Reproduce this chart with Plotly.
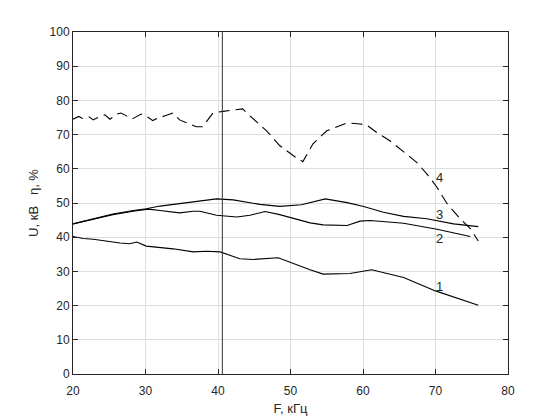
import plotly.graph_objects as go

# curve 1
f1 = [20, 21.4, 22.8, 24.6, 26.5, 27.8, 28.8, 30.1, 32, 33.8, 36.6, 38.4, 40.3, 43, 44.9,
      48.3, 52.7, 54.5, 58.2, 61.2, 65.6, 70.0, 75.9]
u1 = [40.2, 39.6, 39.4, 38.8, 38.3, 38.1, 38.6, 37.4, 37.1, 36.6, 35.7, 35.9, 35.7, 33.7, 33.5,
      34.0, 30.5, 29.2, 29.4, 30.5, 28.2, 24.3, 20.1]

# curve 2
f2 = [20, 22.8, 25.5, 28.3, 30.4, 32, 34.7, 36.6, 37.5, 39.8, 42.6, 44.4, 46.5, 48.5, 50.9,
      52.7, 54.5, 57.8, 59.6, 61, 65.6, 70.2, 74.8]
u2 = [43.9, 45.3, 46.6, 47.6, 48.2, 47.8, 47.1, 47.6, 47.6, 46.4, 45.9, 46.4, 47.5, 46.6, 45.1,
      44.2, 43.6, 43.4, 44.7, 44.9, 44.1, 42.3, 40.2]

# curve 3
f3 = [20, 22.8, 25.5, 28.3, 30.1, 32, 34.7, 37.5, 39.8, 42.1, 45.8, 48.5, 51.5, 54.8, 57.8,
      60.1, 62.8, 65.6, 68.8, 72.5, 75.9]
u3 = [43.9, 45.4, 46.8, 47.8, 48.3, 49.1, 49.8, 50.4, 51.2, 50.9, 49.6, 49.0, 49.5, 51.2, 50.1,
      49.0, 47.3, 46.1, 45.4, 43.9, 43.1]

# curve 4 (efficiency, dashed)
f4 = [20, 20.8, 21.3, 22.2, 22.8, 23.2, 24.4, 25.1, 26.1, 26.6, 27.2, 28.1, 29.4, 30.4, 31.0,
      31.7, 32.7, 33.8, 34.7, 36.1, 37.0, 37.9, 39.3, 40.7, 42.1, 43.4, 44.4, 46.7, 48.5, 50.4,
      51.7, 53.1, 55.0, 57.8, 59.6, 60.5, 61.9, 63.7, 66.0, 67.4, 68.8, 70.2, 71.6, 73.4, 74.8, 75.9]
u4 = [74.5, 75.3, 74.7, 75.2, 74.3, 74.8, 75.8, 74.5, 76.0, 76.3, 75.7, 74.5, 76.0, 75.0, 74.1,
      74.8, 75.5, 76.3, 74.3, 73.1, 72.3, 72.3, 76.3, 76.8, 77.2, 77.5, 75.5, 71.1, 66.8, 63.8,
      62.1, 67.3, 71.1, 73.4, 73.1, 72.8, 70.6, 68.2, 64.3, 61.9, 58.5, 54.6, 49.8, 45.4, 42.5, 38.9]

# curve labels
label_text = ['1', '2', '3', '4']
label_x = [70.5, 70.5, 70.5, 70.5]
label_y = [25.5, 39.6, 46.6, 57.5]

# vertical marker
marker_f = 40.6

fig = go.Figure()
for fx, uy in [(f1, u1), (f2, u2), (f3, u3)]:
    fig.add_trace(go.Scatter(x=fx, y=uy, mode='lines', line=dict(color='black', width=1.1)))
fig.add_trace(go.Scatter(x=f4, y=u4, mode='lines',
                         line=dict(color='black', width=1.1, dash='11px,6px')))

fig.add_vline(x=marker_f, line=dict(color='#333333', width=1))

for t, lx, ly in zip(label_text, label_x, label_y):
    fig.add_annotation(x=lx, y=ly, text=t, showarrow=False,
                       font=dict(size=13, color='#262626'))

axis_style = dict(showline=True, linecolor='#262626', linewidth=1, mirror='ticks',
                  ticks='inside', ticklen=5, tickcolor='#262626', automargin=False,
                  showgrid=True, gridcolor='#dedede', gridwidth=1, zeroline=False,
                  tickfont=dict(size=12, color='#262626'))

# page body adds 8px offset, so margins are shifted accordingly
fig.update_layout(
    width=560, height=420,
    margin=dict(l=65, r=60, t=24, b=54),
    plot_bgcolor='white', paper_bgcolor='white',
    showlegend=False,
    font=dict(family='Liberation Sans, Arial, sans-serif', size=12, color='#262626'),
    xaxis=dict(range=[20, 80], dtick=10, ticklabelstandoff=6,
               title=dict(text='F, кГц', standoff=6, font=dict(size=13)), **axis_style),
    yaxis=dict(range=[0, 100], dtick=10,
               title=dict(text='U, кВ\u00a0\u00a0\u00a0η, %', standoff=8, font=dict(size=13)),
               **axis_style),
)

fig.write_html('out.html')
